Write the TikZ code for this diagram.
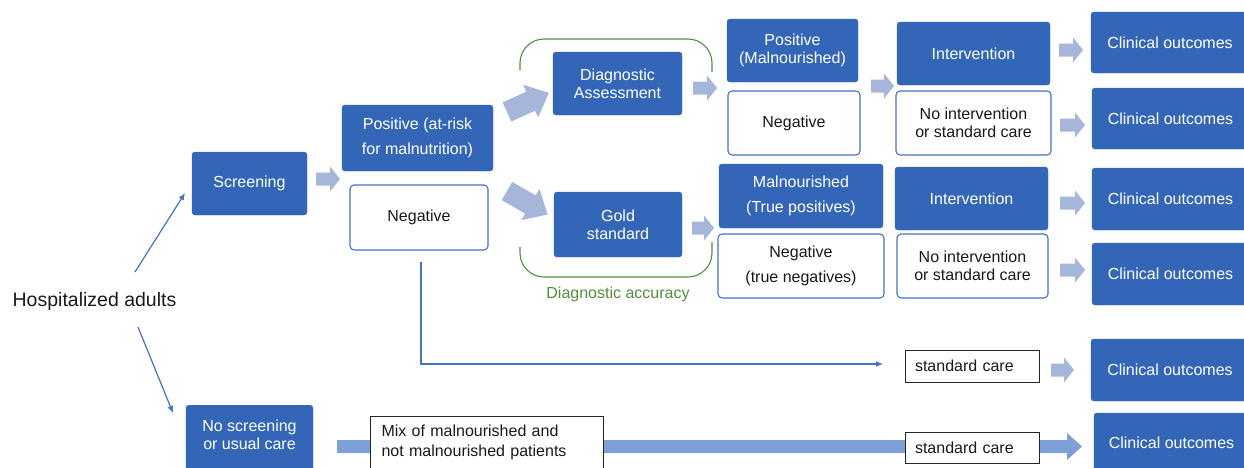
\documentclass[tikz,border=0pt]{standalone}
\usepackage{fontspec}
\setmainfont{Liberation Sans}
\usetikzlibrary{arrows.meta,calc}
\definecolor{boxblue}{RGB}{52,102,184}
\definecolor{lineblue}{RGB}{68,114,196}
\definecolor{arrc}{RGB}{166,182,219}
\definecolor{bandc}{RGB}{127,160,214}
\definecolor{grn}{RGB}{84,140,60}
\definecolor{txt}{RGB}{25,25,25}
\newcommand\fsn{\fontsize{16}{18}\selectfont}
\newcommand\fsw{\fontsize{16}{25.5}\selectfont}
\newcommand\smallarr[3]{\fill[arrc] (#1,#2) -- ++(0,-6.5) -- ++({#3-10},0) -- ++(0,-6) -- ++(10,12.5) -- ++(-10,12.5) -- ++(0,-6) -- ++({10-#3},0) -- cycle;}
\begin{document}
\begin{tikzpicture}[x=1pt,y=-1pt,
  bluebox/.style={fill=boxblue, draw=boxblue, rounded corners=3pt, text=white, font=\fsn, align=center, inner sep=0pt},
  whitebox/.style={fill=white, draw=lineblue, line width=1.1pt, rounded corners=4pt, text=txt, font=\fsn, align=center, inner sep=0pt},
  plainbox/.style={fill=white, draw=black!85, line width=1pt, text=txt, font=\fsn, inner sep=0pt},
  carebox/.style={plainbox, text width=114pt, align=left, inner xsep=10pt},
  thinarrow/.style={draw=lineblue, line width=1.2pt, -{Latex[length=7pt,width=6pt]}},
  bracket/.style={draw=grn, line width=1.1pt, rounded corners=24pt}]
\useasboundingbox (0,0) rectangle (1244,467);
\clip (0,0) rectangle (1244,467);

% left part
\node[text=txt, font=\fontsize{19.5}{22}\selectfont] (hosp) at (94.5,301) {Hospitalized adults};
\node[bluebox, minimum width=115, minimum height=63] (screen) at (249.5,183.5) {Screening};
\node[bluebox, minimum width=127, minimum height=70, anchor=north] (nosc) at (249.5,405) {};
\node[text=white, font=\fsn, align=center] (nosctext) at (249.5,435) {No screening\\or usual care};
\coordinate (h1) at (135,272);
\coordinate (s1) at (185,193);
\coordinate (h2) at (138,327);
\coordinate (n1) at (173,413);
\draw[thinarrow] (h1) -- (s1);
\draw[thinarrow] (h2) -- (n1);

% screening results
\node[bluebox, minimum width=151, minimum height=66, font=\fsw] (pos) at (417.5,138) {Positive (at-risk\\for malnutrition)};
\node[whitebox, minimum width=138, minimum height=65] (neg1) at (419,217.5) {Negative};

% diagnostic
\node[bluebox, minimum width=129, minimum height=63] (diag) at (617.5,83.5) {Diagnostic\\Assessment};
\node[bluebox, minimum width=128, minimum height=65] (gold) at (618,224.5) {Gold\\standard};
\draw[bracket] (520,70) -- (520,39) -- (712,39) -- (712,72);
\draw[bracket] (520,247) -- (520,277) -- (712,277) -- (712,242);
\node[text=grn, font=\fsn] (acc) at (618,294) {Diagnostic accuracy};

% results of diagnostics
\node[bluebox, minimum width=131, minimum height=63] (posmal) at (792.5,50.5) {Positive\\(Malnourished)};
\node[whitebox, minimum width=132, minimum height=64] (nega) at (794,123) {Negative};
\node[bluebox, minimum width=164, minimum height=64, font=\fsw] (mal) at (801,196) {Malnourished\\(True positives)};
\node[whitebox, minimum width=166, minimum height=64, font=\fsw] (negtn) at (801,266) {Negative\\(true negatives)};

% interventions
\node[bluebox, minimum width=153, minimum height=63] (int1) at (973.5,53.5) {Intervention};
\node[whitebox, minimum width=155, minimum height=64] (noint1) at (973.5,123) {No intervention\\or standard care};
\node[bluebox, minimum width=153, minimum height=63] (int2) at (971.5,198.5) {Intervention};
\node[whitebox, minimum width=151, minimum height=64] (noint2) at (972.5,266) {No intervention\\or standard care};

% outcomes
\node[bluebox, minimum width=158, minimum height=61] (co1) at (1170,42.5) {Clinical outcomes};
\node[bluebox, minimum width=157, minimum height=61] (co2) at (1170.5,118.5) {Clinical outcomes};
\node[bluebox, minimum width=157, minimum height=62] (co3) at (1170.5,199) {Clinical outcomes};
\node[bluebox, minimum width=157, minimum height=62] (co4) at (1170.5,274) {Clinical outcomes};
\node[bluebox, minimum width=158, minimum height=62] (co5) at (1170,370) {Clinical outcomes};
\node[bluebox, minimum width=155, minimum height=60] (co6) at (1171.5,443) {Clinical outcomes};

% negative path to standard care
\node[carebox, minimum height=32] (sc1) at (972,366) {standard care};
\coordinate (nl0) at (421,262);
\coordinate (nl1) at (883,364);
\draw[draw=lineblue, line width=1.2pt, -{Latex[length=7pt,width=6pt]}] (nl0) |- (nl1);

% bottom band
\coordinate (bs) at (337,446.5);
\coordinate (be) at (1082,446.5);
\fill[bandc] ($(bs)+(0,-6.5)$) -- ($(be)+(-15,-6.5)$) -- ($(be)+(-15,-13.5)$) -- (be) -- ($(be)+(-15,13.5)$) -- ($(be)+(-15,6.5)$) -- ($(bs)+(0,6.5)$) -- cycle;
\node[plainbox, anchor=north west, minimum width=233, minimum height=52, text width=211, align=left, inner xsep=11pt, font=\fontsize{16}{20}\selectfont] (mix) at (370,416) {Mix of malnourished and\\not malnourished patients};
\node[carebox, minimum height=31] (sc2) at (972,447.5) {standard care};

% block arrows
\smallarr{316}{179}{24}
\smallarr{693}{88}{24}
\smallarr{692}{228}{22}
\smallarr{871}{86}{23}
\smallarr{1059}{50}{24}
\smallarr{1060}{125}{25}
\smallarr{1060}{203}{25}
\smallarr{1060}{270}{25}
\smallarr{1051}{370}{23}
\begin{scope}[shift={(507,112)}, rotate=24.6]
\fill[arrc] (0,-10.5) -- (26,-10.5) -- (26,-18) -- (46,0) -- (26,18) -- (26,10.5) -- (0,10.5) -- cycle;
\end{scope}
\begin{scope}[shift={(507,191)}, rotate=-30]
\fill[arrc] (0,-10.5) -- (27,-10.5) -- (27,-18) -- (47,0) -- (27,18) -- (27,10.5) -- (0,10.5) -- cycle;
\end{scope}
\end{tikzpicture}
\end{document}
